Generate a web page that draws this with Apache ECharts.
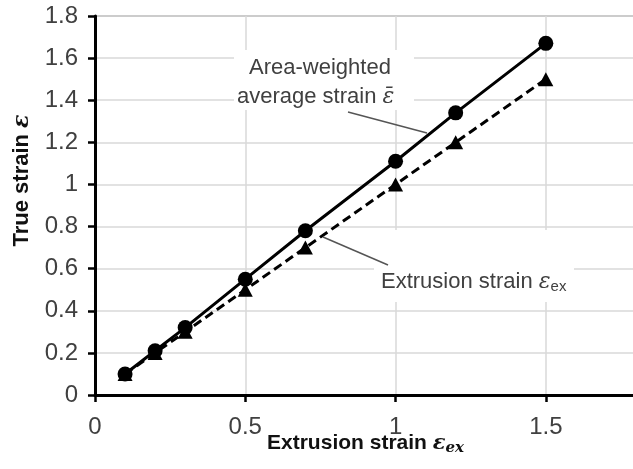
<!DOCTYPE html>
<html>
<head>
<meta charset="utf-8">
<script src="https://cdn.jsdelivr.net/npm/echarts@6/dist/echarts.min.js"></script>
<style>
html,body{margin:0;padding:0;background:#fff;}
#c{width:633px;height:469px;}
</style>
</head>
<body>
<div id="c"></div>
<script>
// ---- data ----
var extrusionStrain = [0.1, 0.2, 0.3, 0.5, 0.7, 1.0, 1.2, 1.5];
var areaWeightedStrain = [0.10, 0.21, 0.32, 0.55, 0.78, 1.11, 1.34, 1.67];
var extrusionTrueStrain = [0.1, 0.2, 0.3, 0.5, 0.7, 1.0, 1.2, 1.5];
var xTicks = [0, 0.5, 1, 1.5];
var yTicks = [0, 0.2, 0.4, 0.6, 0.8, 1, 1.2, 1.4, 1.6, 1.8];

function pairs(xs, ys) { return xs.map(function (x, i) { return [x, ys[i]]; }); }

var FONT = '"Liberation Sans", Arial, sans-serif';
var chart = echarts.init(document.getElementById('c'), null, {renderer: 'canvas'});

var option = {
  backgroundColor: '#fff',
  animation: false,
  grid: {left: 95, top: 16, width: 541, height: 379, containLabel: false, outerBoundsMode: 'none',
    show: true, borderColor: '#8a8a8a', borderWidth: 1.5, backgroundColor: 'transparent'},
  xAxis: {
    type: 'value', min: 0, max: 1.8, interval: 0.5,
    axisLine: {lineStyle: {color: '#000', width: 3}},
    axisTick: {show: true, inside: false, length: 7, lineStyle: {color: '#000', width: 2.5}},
    axisLabel: {color: '#404040', fontFamily: FONT, fontSize: 24, margin: 20, showMaxLabel: false,
      formatter: function (v) { return xTicks.indexOf(v) >= 0 ? String(v) : ''; }},
    splitLine: {show: true, lineStyle: {color: '#d9d9d9', width: 1.5}},
    name: 'Extrusion strain {e|ε}{s|ex}',
    nameLocation: 'middle', nameGap: 36, nameMoveOverlap: false,
    nameTextStyle: {color: '#111', fontFamily: FONT, fontSize: 21, fontWeight: 'bold',
      rich: {
        e: {fontFamily: '"DejaVu Serif", serif', fontStyle: 'italic', fontWeight: 'bold', fontSize: 21, color: '#111'},
        s: {fontFamily: '"DejaVu Serif", serif', fontStyle: 'italic', fontWeight: 'bold', fontSize: 15, color: '#111', padding: [10, 0, 0, 0]}
      }}
  },
  yAxis: {
    type: 'value', min: 0, max: 1.8, interval: 0.2,
    axisLine: {lineStyle: {color: '#000', width: 3}},
    axisTick: {show: true, inside: false, length: 7, lineStyle: {color: '#000', width: 2.5}},
    axisLabel: {color: '#404040', fontFamily: FONT, fontSize: 24, margin: 17,
      formatter: function (v) { var r = Math.round(v * 10) / 10; return yTicks.indexOf(r) >= 0 ? String(r) : ''; }},
    splitLine: {show: true, lineStyle: {color: '#d9d9d9', width: 1.5}},
    name: 'True strain {e|ε}',
    nameLocation: 'middle', nameGap: 62, nameRotate: 90, nameMoveOverlap: false,
    nameTextStyle: {color: '#111', fontFamily: FONT, fontSize: 22, fontWeight: 'bold', padding: [0, 0, 0, 50],
      rich: {
        e: {fontFamily: '"DejaVu Serif", serif', fontStyle: 'italic', fontWeight: 'bold', fontSize: 22, color: '#111'}
      }}
  },
  series: [
    {
      name: 'Area-weighted average strain', type: 'line',
      data: pairs(extrusionStrain, areaWeightedStrain),
      symbol: 'circle', symbolSize: 15,
      lineStyle: {color: '#000', width: 3, type: 'solid'},
      itemStyle: {color: '#000'}, z: 3
    },
    {
      name: 'Extrusion strain', type: 'line',
      data: pairs(extrusionStrain, extrusionTrueStrain),
      symbol: 'triangle', symbolSize: [15, 14],
      lineStyle: {color: '#000', width: 3, type: [9, 5]},
      itemStyle: {color: '#000'}, z: 2
    }
  ],
  graphic: [
    {type: 'rect', shape: {x: 234, y: 50, width: 180, height: 60}, style: {fill: '#fff'}, z: 1},
    {type: 'rect', shape: {x: 374, y: 230, width: 200, height: 72}, style: {fill: '#fff'}, z: 1},
    {type: 'text', left: 249, top: 57, z: 5, style: {text: 'Area-weighted', fontFamily: FONT, fontSize: 22, fill: '#404040'}},
    {type: 'text', left: 237, top: 86, z: 5, style: {
      text: 'average strain {e|ε̄}', fontFamily: FONT, fontSize: 22, fill: '#404040',
      rich: {e: {fontFamily: '"DejaVu Serif", serif', fontStyle: 'italic', fontSize: 22, fill: '#404040'}}}},
    {type: 'line', shape: {x1: 348, y1: 112, x2: 427, y2: 133}, style: {stroke: '#555', lineWidth: 1.5}, z: 10},
    {type: 'text', left: 381, top: 271, z: 5, style: {
      text: 'Extrusion strain {e|ε}{s|ex}', fontFamily: FONT, fontSize: 22, fill: '#404040',
      rich: {
        e: {fontFamily: '"DejaVu Serif", serif', fontStyle: 'italic', fontSize: 22, fill: '#404040'},
        s: {fontFamily: FONT, fontSize: 15, fill: '#404040', padding: [10, 0, 0, 0]}
      }}},
    {type: 'line', shape: {x1: 323, y1: 237, x2: 388, y2: 265}, style: {stroke: '#555', lineWidth: 1.5}, z: 10}
  ]
};
chart.setOption(option);
</script>
</body>
</html>
